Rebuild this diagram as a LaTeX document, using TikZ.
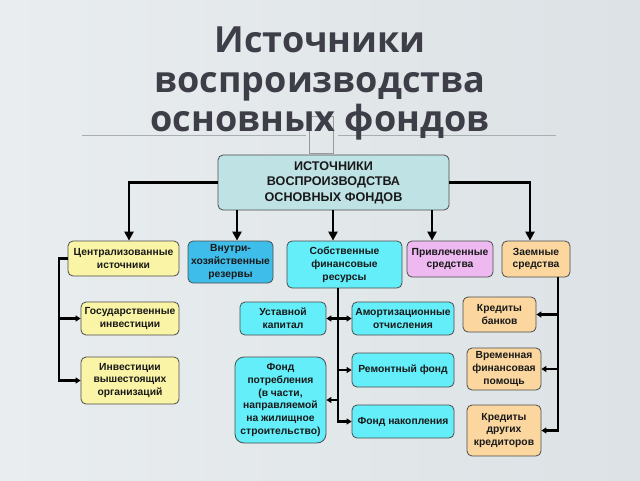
\documentclass[tikz,border=0pt]{standalone}
\usepackage{fontspec}
\setmainfont{Liberation Sans}
\newfontfamily\titlefont{Open Sans}
\usetikzlibrary{arrows.meta}
\definecolor{bgl}{HTML}{E9EDEF}
\definecolor{bgr}{HTML}{DCE2E5}
\definecolor{titlec}{HTML}{3D3E47}
\definecolor{mainc}{HTML}{BFE2E5}
\definecolor{yelc}{HTML}{FAF5A6}
\definecolor{bluec}{HTML}{3EBDEA}
\definecolor{cyanc}{HTML}{63EEF9}
\definecolor{pinkc}{HTML}{EDB9F0}
\definecolor{orc}{HTML}{FBD79F}
\definecolor{rulec}{HTML}{A9AEB3}
\tikzset{
  box/.style={draw=black!70, line width=0.8pt, rounded corners=5pt, align=center, inner sep=1pt,
    font=\fontsize{10.3}{12.8}\selectfont\bfseries, text=black!90},
  bigarr/.style={line width=2.8pt, -{Triangle[length=9pt,width=9pt]}},
  smarr/.style={line width=2.2pt, -{Triangle[length=5pt,width=6pt]}},
  plain/.style={line width=2.2pt},
}
\begin{document}
\begin{tikzpicture}[x=1pt,y=-1pt]
\shade[left color=bgl, right color=bgr] (0,0) rectangle (640,480);
\useasboundingbox (0,0) rectangle (640,480);
% rules under title
\draw[rulec, line width=0.9pt] (82,135) -- (306,135);
\draw[rulec, line width=0.9pt] (338,135) -- (556,135);
\draw[gray!80, line width=0.8pt] (309,116) rectangle (333,153);
% title
\node[anchor=base, font=\titlefont\fontsize{36}{40}\selectfont\bfseries, text=titlec] (t1) at (320,52) {Источники};
\node[anchor=base, font=\titlefont\fontsize{36}{40}\selectfont\bfseries, text=titlec] (t2) at (320,92) {воспроизводства};
\node[anchor=base, font=\titlefont\fontsize{36}{40}\selectfont\bfseries, text=titlec] (t3) at (320,131) {основных фондов};
% boxes
\node[box, fill=mainc, minimum width=231pt, minimum height=55pt, font=\fontsize{12.6}{15.5}\selectfont\bfseries] (main) at (333.5,182.5) {ИСТОЧНИКИ\\ВОСПРОИЗВОДСТВА\\ОСНОВНЫХ ФОНДОВ};
\node[box, fill=yelc, minimum width=111pt, minimum height=35pt] (cent) at (123.5,258.5) {Централизованные\\источники};
\node[box, fill=bluec, minimum width=85pt, minimum height=42pt] (vnut) at (230.5,262) {Внутри-\\хозяйственные\\резервы};
\node[box, fill=cyanc, minimum width=115pt, minimum height=47pt] (sobs) at (344.5,264.5) {Собственные\\финансовые\\ресурсы};
\node[box, fill=pinkc, minimum width=86pt, minimum height=36pt] (priv) at (450,259) {Привлеченные\\средства};
\node[box, fill=orc, minimum width=68pt, minimum height=36pt] (zaem) at (536,259) {Заемные\\средства};
\node[box, fill=yelc, minimum width=98pt, minimum height=33pt] (gos) at (130,318.5) {Государственные\\инвестиции};
\node[box, fill=yelc, minimum width=98pt, minimum height=47pt] (inv) at (130,380.5) {Инвестиции\\вышестоящих\\организаций};
\node[box, fill=cyanc, minimum width=86pt, minimum height=33pt] (ust) at (283,318.5) {Уставной\\капитал};
\node[box, fill=cyanc, minimum width=91pt, minimum height=86pt, rounded corners=9pt] (fpot) at (280.5,400) {Фонд\\потребления\\(в части,\\направляемой\\на жилищное\\строительство)};
\node[box, fill=cyanc, minimum width=102pt, minimum height=33pt] (amort) at (403,318.5) {Амортизационные\\отчисления};
\node[box, fill=cyanc, minimum width=102pt, minimum height=34pt] (rem) at (403,370) {Ремонтный фонд};
\node[box, fill=cyanc, minimum width=102pt, minimum height=33pt] (fnak) at (403,421.5) {Фонд накопления};
\node[box, fill=orc, minimum width=73pt, minimum height=35pt] (kb) at (499.5,314.5) {Кредиты\\банков};
\node[box, fill=orc, minimum width=74pt, minimum height=42pt] (vrem) at (504,369) {Временная\\финансовая\\помощь};
\node[box, fill=orc, minimum width=74pt, minimum height=51pt] (kdr) at (504,430.5) {Кредиты\\других\\кредиторов};
% top arrows
\draw[bigarr] (main.west) -| (129,0 |- cent.north);
\draw[bigarr] (237,0 |- main.south) -- (237,0 |- vnut.north);
\draw[bigarr] (333,0 |- main.south) -- (333,0 |- sobs.north);
\draw[bigarr] (432,0 |- main.south) -- (432,0 |- priv.north);
\draw[bigarr] (main.east) -| (530,0 |- zaem.north);
% left column
\draw[plain] (cent.west) -- (59,0 |- cent.west) -- (59,0 |- inv.west);
\draw[smarr] (59,0 |- gos.west) -- (gos.west);
\draw[smarr] (58,0 |- inv.west) -- (inv.west);
% own resources
\draw[plain] (338,0 |- sobs.south) -- (338,0 |- fnak.west);
\draw[smarr] (338,0 |- ust.east) -- (ust.east);
\draw[smarr] (338,0 |- amort.west) -- (amort.west);
\draw[smarr] (338,0 |- rem.west) -- (rem.west);
\draw[smarr] (338,0 |- fpot.east) -- (fpot.east);
\draw[smarr] (337,0 |- fnak.west) -- (fnak.west);
% borrowed
\draw[plain] (558,0 |- zaem.south) -- (558,0 |- kdr.east);
\draw[smarr] (558,0 |- kb.east) -- (kb.east);
\draw[smarr] (558,0 |- vrem.east) -- (vrem.east);
\draw[smarr] (559,0 |- kdr.east) -- (kdr.east);
\end{tikzpicture}
\end{document}
